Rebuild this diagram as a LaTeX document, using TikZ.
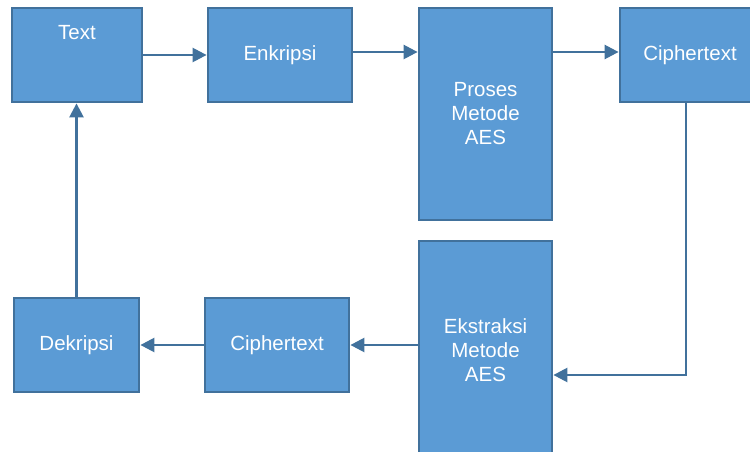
\documentclass[tikz,border=0pt]{standalone}
\usepackage{fontspec}
\setmainfont{Liberation Sans}
\usetikzlibrary{arrows.meta, positioning}
\definecolor{boxfill}{HTML}{5B9BD5}
\definecolor{boxline}{HTML}{41719C}

\begin{document}
\begin{tikzpicture}[x=1pt, y=-1pt,
        box/.style={draw=boxline, fill=boxfill, line width=2.8pt, text=white,
            align=center, inner sep=0pt, font=\fontsize{20.5}{24}\selectfont},
        flow/.style={draw=boxline, line width=2.5pt, -{Triangle[length=14pt, width=14pt]}}]
        \useasboundingbox (0,0) rectangle (750,452);
        \clip (0,0) rectangle (750,452);

        % Add the boxes
        \node[box, minimum width=130pt, minimum height=94pt,
            label={[text=white, font=\fontsize{20.5}{24}\selectfont, yshift=22pt]center:Text}]
            (text) at (77,55) {};
        \node[box, minimum width=144pt, minimum height=94pt] (enk) at (280,55) {Enkripsi};
        \node[box, minimum width=133pt, minimum height=212pt] (proses) at (485.5,114) {Proses\\Metode\\AES};
        \node[box, minimum width=140pt, minimum height=94pt] (cipher1) at (690,55) {Ciphertext};
        \node[box, minimum width=133pt, minimum height=218pt] (eks) at (485.5,350) {Ekstraksi\\Metode\\AES};
        \node[box, minimum width=144pt, minimum height=94pt] (cipher2) at (277,345) {Ciphertext};
        \node[box, minimum width=125pt, minimum height=94pt] (dek) at (76.5,345) {Dekripsi};

        % Add the arrows
        \draw[flow] (text) -- (enk);
        \draw[flow] ([yshift=3pt]enk.east) -- ([yshift=3pt]enk.east -| proses.west);
        \draw[flow] ([yshift=3pt]cipher1.west -| proses.east) -- ([yshift=3pt]cipher1.west);
        \draw[flow] ([xshift=-4pt]cipher1.south) |- ([yshift=-25pt]eks.east);
        \draw[flow] (eks.west |- cipher2) -- (cipher2);
        \draw[flow] (cipher2) -- (dek);
        \draw[flow] (dek) -- (dek |- text.south);
\end{tikzpicture}
\end{document}
